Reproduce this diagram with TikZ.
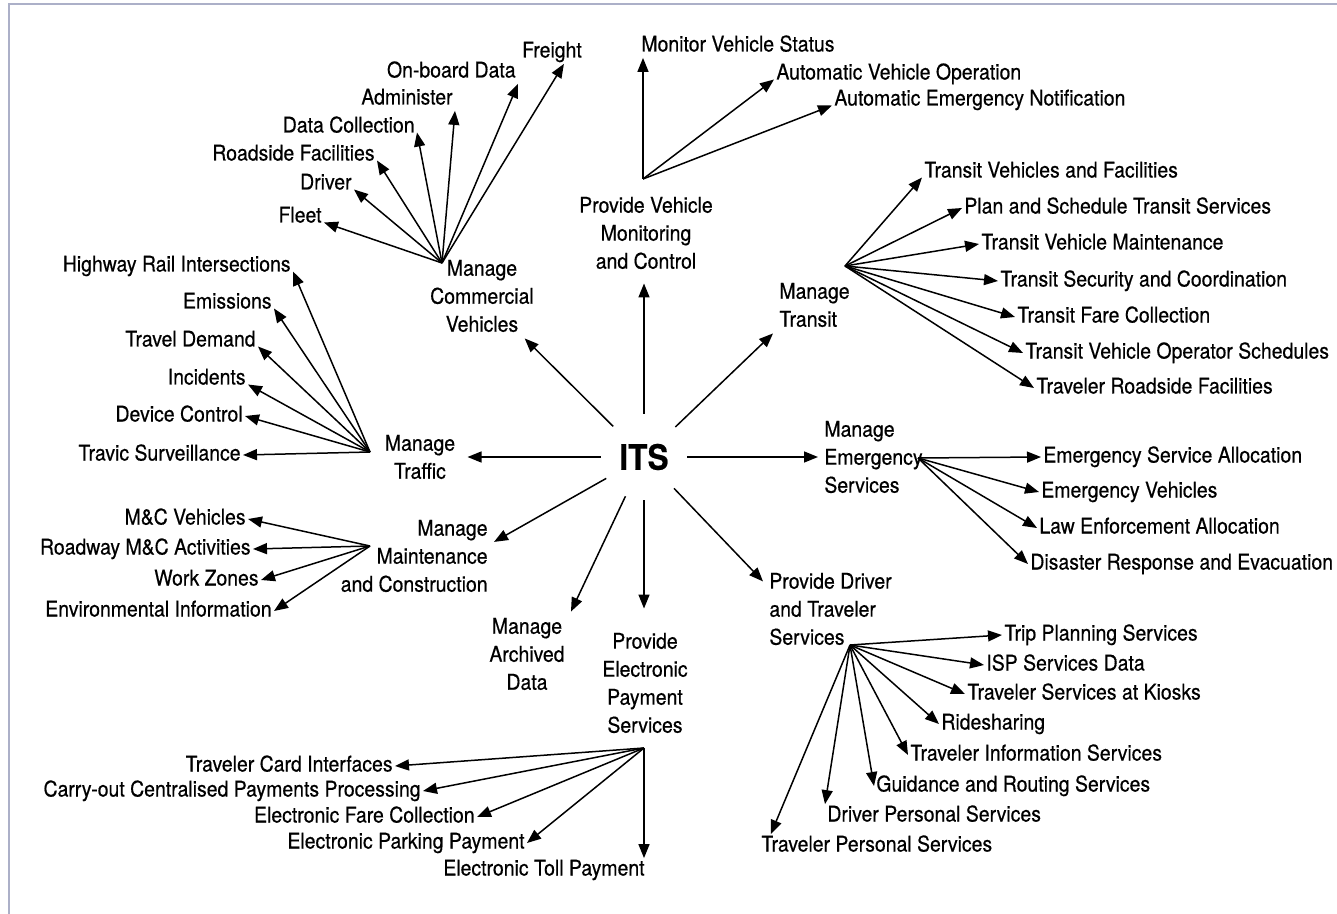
\documentclass[tikz,border=0pt]{standalone}
\usepackage{fontspec}
\setmainfont{TeX Gyre Heros}[FakeStretch=0.9,FakeBold=0.5]
\usetikzlibrary{arrows.meta,calc}
\definecolor{framegray}{RGB}{172,176,200}

\begin{document}
\begin{tikzpicture}[x=0.5pt,y=-0.5pt,
    every node/.style={font=\fontsize{10.8}{14}\selectfont},
    leaf/.style={inner sep=1pt,text height=7.5pt,text depth=2pt},
    hub/.style={inner sep=3pt},
    arr/.style={-{Triangle[length=7pt,width=5.5pt]},line width=0.75pt}]
\useasboundingbox (0,0) rectangle (1337,914);
\draw[framegray,line width=1pt] (9,914) -- (9,4) -- (1337,4);

\node[circle,minimum size=43pt,inner sep=0pt,font=\fontsize{17.5}{20}\selectfont\bfseries] (its) at (644,457) {ITS};

\node[hub,align=center] (cv) at (482,296) {Manage\\Commercial\\Vehicles};
\node[hub,align=center] (pvmc) at (646,233) {Provide Vehicle\\Monitoring\\and Control};
\node[hub,align=left,anchor=west] (transit) at (773,305) {Manage\\Transit};
\node[hub,align=center] (traffic) at (420,457) {Manage\\Traffic};
\node[hub,align=left,anchor=west] (emerg) at (818,457) {Manage\\Emergency\\Services};
\node[hub,align=right,anchor=east] (maint) at (494,556) {Manage\\Maintenance\\and Construction};
\node[hub,align=center] (archive) at (527,654) {Manage\\Archived\\Data};
\node[hub,align=center] (payment) at (645,683) {Provide\\Electronic\\Payment\\Services};
\node[hub,align=left,anchor=west] (driver) at (763,609) {Provide Driver\\and Traveler\\Services};

\coordinate (cvsrc) at (442,263);
\coordinate (pvsrc) at (643,179);
\coordinate (trsrc) at (845,266);
\coordinate (tfsrc) at (370,452);
\coordinate (emsrc) at (918,458);
\coordinate (mcsrc) at (370,546);
\coordinate (drsrc) at (850,645);
\coordinate (paysrc) at (644,748);

\node[leaf,anchor=east] (fleet) at (324,217) {Fleet};
\node[leaf,anchor=east] (driverc) at (354,184) {Driver};
\node[leaf,anchor=east] (roadside) at (377,155) {Roadside Facilities};
\node[leaf,anchor=east] (datacoll) at (417,127) {Data Collection};
\node[leaf,anchor=east] (admin) at (455,99) {Administer};
\node[leaf,anchor=east] (onboard) at (518,72) {On-board Data};
\node[leaf] (freight) at (552,52) {Freight};

\node[leaf,anchor=west] (monitor) at (639,46) {Monitor Vehicle Status};
\node[leaf,anchor=west] (autoop) at (774,74) {Automatic Vehicle Operation};
\node[leaf,anchor=west] (autoemerg) at (832,100) {Automatic Emergency Notification};

\node[leaf,anchor=west] (transveh) at (922,172) {Transit Vehicles and Facilities};
\node[leaf,anchor=west] (plan) at (962,208) {Plan and Schedule Transit Services};
\node[leaf,anchor=west] (tvm) at (979,244) {Transit Vehicle Maintenance};
\node[leaf,anchor=west] (tsc) at (998,281) {Transit Security and Coordination};
\node[leaf,anchor=west] (tfc) at (1015,317) {Transit Fare Collection};
\node[leaf,anchor=west] (tvos) at (1023,353) {Transit Vehicle Operator Schedules};
\node[leaf,anchor=west] (trf) at (1034,388) {Traveler Roadside Facilities};

\node[leaf,anchor=east] (hri) at (293,266) {Highway Rail Intersections};
\node[leaf,anchor=east] (emissions) at (274,303) {Emissions};
\node[leaf,anchor=east] (tdemand) at (258,341) {Travel Demand};
\node[leaf,anchor=east] (incidents) at (248,379) {Incidents};
\node[leaf,anchor=east] (device) at (245,416) {Device Control};
\node[leaf,anchor=east] (surveil) at (243,455) {Travic Surveillance};

\node[leaf,anchor=west] (esa) at (1041,457) {Emergency Service Allocation};
\node[leaf,anchor=west] (ev) at (1039,492) {Emergency Vehicles};
\node[leaf,anchor=west] (lea) at (1037,528) {Law Enforcement Allocation};
\node[leaf,anchor=west] (dre) at (1028,564) {Disaster Response and Evacuation};

\node[leaf,anchor=east] (mcv) at (248,519) {M\&C Vehicles};
\node[leaf,anchor=east] (roadway) at (253,549) {Roadway M\&C Activities};
\node[leaf,anchor=east] (workz) at (261,580) {Work Zones};
\node[leaf,anchor=east] (envinfo) at (274,611) {Environmental Information};

\node[leaf,anchor=west] (trip) at (1002,635) {Trip Planning Services};
\node[leaf,anchor=west] (isp) at (984,665) {ISP Services Data};
\node[leaf,anchor=west] (kiosks) at (965,694) {Traveler Services at Kiosks};
\node[leaf,anchor=west] (ride) at (939,724) {Ridesharing};
\node[leaf,anchor=west] (tis) at (908,755) {Traveler Information Services};
\node[leaf,anchor=west] (guidance) at (874,786) {Guidance and Routing Services};
\node[leaf,anchor=west] (dps) at (825,816) {Driver Personal Services};
\node[leaf,anchor=west] (tps) at (759,846) {Traveler Personal Services};

\node[leaf,anchor=east] (tci) at (395,766) {Traveler Card Interfaces};
\node[leaf,anchor=east] (carry) at (423,791) {Carry-out Centralised Payments Processing};
\node[leaf,anchor=east] (efc) at (477,817) {Electronic Fare Collection};
\node[leaf,anchor=east] (epp) at (527,843) {Electronic Parking Payment};
\node[leaf,anchor=east] (etp) at (647,870) {Electronic Toll Payment};

\path[arr] (its) edge (cv)
    edge[shorten >=4pt] (its |- pvmc.south)
    edge (transit.south west)
    edge[shorten >=3pt] (traffic)
    edge (its -| emerg.west)
    edge (maint.10)
    edge (archive.north east)
    edge[shorten >=9pt] (its |- payment.north)
    edge ($(driver.north west)!0.35!(driver.west)$);

\path[arr] (cvsrc) edge (fleet.base east) edge (driverc.base east)
    edge (roadside.base east) edge (datacoll.base east)
    edge (admin.south east) edge (onboard.south east) edge (freight.-45);
\path[arr] (pvsrc) edge (pvsrc |- monitor.south) edge (autoop.base west)
    edge (autoemerg.base west);
\path[arr] (trsrc) edge (transveh.base west) edge (plan.west) edge (tvm.west)
    edge (tsc.west) edge (tfc.west) edge (tvos.west) edge (trf.west);
\path[arr] (tfsrc) edge (hri.base east) edge (emissions.base east)
    edge (tdemand.base east) edge (incidents.base east)
    edge (device.east) edge (surveil.east);
\path[arr] (emsrc) edge (esa.west) edge (ev.west) edge (lea.west) edge (dre.west);
\path[arr] (mcsrc) edge (mcv.east) edge (roadway.east) edge (workz.east)
    edge (envinfo.east);
\path[arr] (drsrc) edge (trip.west) edge (isp.west) edge (kiosks.west)
    edge (ride.west) edge (tis.west) edge (guidance.west)
    edge (dps.north west) edge ($(tps.north west)!0.05!(tps.north east)$);
\path[arr] (paysrc) edge (tci.east) edge (carry.east) edge (efc.east)
    edge (epp.east) edge (paysrc |- etp.north);
\end{tikzpicture}
\end{document}
